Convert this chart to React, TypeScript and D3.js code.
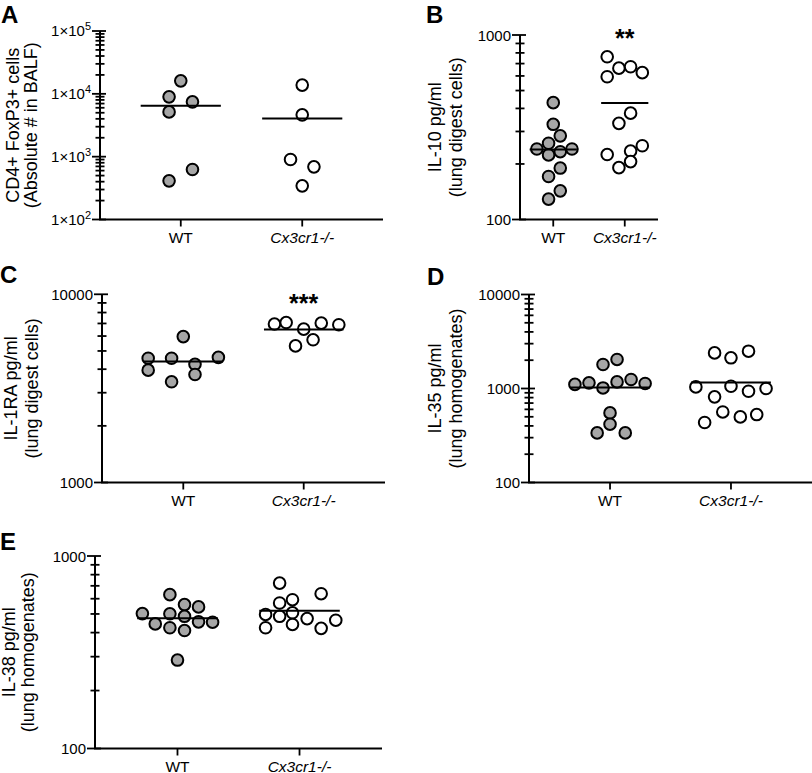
import React from "react";
import * as d3 from "d3";

const GROUPS = ["WT", "Cx3cr1-/-"];

// Panel A: CD4+ FoxP3+ cells (absolute # in BALF)
const A_WT = [16100, 8960, 7460, 5160, 625, 412];
const A_WT_SLOT = [0, -1, 1, -1, 1, -1];
const A_KO = [13770, 4630, 902, 688, 343];
const A_KO_SLOT = [0, 0, -1, 1, 0];
const A_TICKS = [100, 1000, 10000, 100000];

// Panel B: IL-10 pg/ml (lung digest cells)
const B_WT = [430, 328, 284, 259, 241, 224, 233, 241, 190, 171, 143, 129];
const B_WT_SLOT = [0, 0, 0.6, -0.4, -1.4, -0.4, 0.6, 1.6, 0.6, -0.4, 0.6, -0.4];
const B_KO = [762, 594, 661, 673, 625, 377, 332, 225, 235, 251, 206, 191];
const B_KO_SLOT = [-1.5, -1.5, -0.5, 0.5, 1.5, 0.5, -0.5, -1.5, 0.5, 1.5, 0.5, -0.5];
const B_TICKS = [100, 1000];

// Panel C: IL-1RA pg/ml (lung digest cells)
const C_WT = [5960, 4572, 4572, 4624, 4246, 3954, 3749, 3428];
const C_WT_SLOT = [0, -3, -1, 3, 1, -3, 1, -1];
const C_KO = [6950, 7080, 6530, 7030, 6890, 5730, 5320];
const C_KO_SLOT = [-2.5, -1.5, 0, 1.5, 3, 0.8, -0.7];
const C_TICKS = [1000, 10000];

// Panel D: IL-35 pg/ml (lung homogenates)
const D_WT = [2037, 1800, 1105, 1148, 1175, 1247, 1130, 1014, 550, 417, 337, 337];
const D_WT_SLOT = [0.6, -0.6, -3, -1.8, 0.6, 1.8, 3, -0.6, 0, 0, -1.1, 1.3];
const D_KO = [2393, 2120, 2495, 1040, 1057, 935, 1000, 815, 563, 499, 528, 435];
const D_KO_SLOT = [-1.4, 0, 1.5, -3, 0, 1.5, 3, -1.4, -0.7, 0.8, 2.2, -2.25];
const D_TICKS = [100, 1000, 10000];

// Panel E: IL-38 pg/ml (lung homogenates)
const E_WT = [630, 559, 544, 502, 501, 486, 444, 455, 453, 424, 410, 288];
const E_WT_SLOT = [-0.65, 0.6, 1.8, -3, -0.65, 0.6, -1.9, 1.8, 3, -0.65, 0.6, 0];
const E_KO = [723, 637, 570, 593, 497, 486, 507, 473, 464, 424, 441, 421];
const E_KO_SLOT = [-1.7, 1.85, -1.7, -0.6, -2.9, -1.7, -0.6, 0.65, 3.1, -2.9, -0.6, 1.85];
const E_TICKS = [100, 1000];

const FONT = "'Liberation Sans', Arial, Helvetica, sans-serif";
const GRAY = "#a6a6a6";
const DOT_STEP = 11.7;
const R = 5.8;

type PanelProps = {
  letter: string;
  letterX: number;
  letterY: number;
  wt: number[];
  wtSlot: number[];
  ko: number[];
  koSlot: number[];
  majorTicks: number[];
  sci?: boolean;
  title: [string, string];
  titleOff: [number, number];
  stars?: string;
  starsY?: number;
  frame: { x: number; top: number; bottom: number; right: number; pad: number };
};

function Panel(p: PanelProps) {
  const { x: ax, top, bottom, right, pad } = p.frame;
  const lo = p.majorTicks[0];
  const hi = p.majorTicks[p.majorTicks.length - 1];
  const y = d3.scaleLog().domain([lo, hi]).range([bottom, top]);
  const xs = d3.scalePoint<string>().domain(GROUPS).range([ax, right]).padding(pad);
  const step = xs.step();
  const allTicks = y.ticks();
  const isMajor = (t: number) => Math.abs(Math.log10(t) - Math.round(Math.log10(t))) < 1e-9;
  const series = [
    { g: GROUPS[0], vals: p.wt, slots: p.wtSlot, fill: GRAY },
    { g: GROUPS[1], vals: p.ko, slots: p.koSlot, fill: "#ffffff" },
  ];
  const midY = (top + bottom) / 2;
  return (
    <g fontFamily={FONT}>
      <text x={p.letterX} y={p.letterY} fontSize={24} fontWeight="bold" fill="#000">
        {p.letter}
      </text>
      <text
        transform={`translate(${ax + p.titleOff[0]},${midY}) rotate(-90)`}
        textAnchor="middle"
        fontSize={18}
        fill="#000"
      >
        {p.title[0]}
      </text>
      <text
        transform={`translate(${ax + p.titleOff[1]},${midY}) rotate(-90)`}
        textAnchor="middle"
        fontSize={18}
        fill="#000"
      >
        {p.title[1]}
      </text>
      <line x1={ax} x2={ax} y1={top} y2={bottom} stroke="#000" strokeWidth={2} />
      {allTicks.map((t, i) =>
        isMajor(t) ? (
          <line key={i} x1={ax - 8} x2={ax + 6} y1={y(t)} y2={y(t)} stroke="#000" strokeWidth={1.8} />
        ) : (
          <line key={i} x1={ax - 4.5} x2={ax + 4.5} y1={y(t)} y2={y(t)} stroke="#000" strokeWidth={1.8} />
        )
      )}
      {p.majorTicks.map((t, i) =>
        p.sci ? (
          <text key={"l" + i} x={ax - 9} y={y(t) + 5} textAnchor="end" fontSize={15} fill="#000">
            1×10
            <tspan dy={-6} fontSize={11}>
              {Math.round(Math.log10(t))}
            </tspan>
          </text>
        ) : (
          <text key={"l" + i} x={ax - 9} y={y(t) + 5.5} textAnchor="end" fontSize={15} fill="#000">
            {d3.format("d")(t)}
          </text>
        )
      )}
      <line x1={ax - 1} x2={right} y1={bottom} y2={bottom} stroke="#000" strokeWidth={2} />
      {GROUPS.map((g) => (
        <g key={g}>
          <line x1={xs(g)} x2={xs(g)} y1={bottom} y2={bottom + 7} stroke="#000" strokeWidth={1.8} />
          <text
            x={xs(g)}
            y={bottom + 23}
            textAnchor="middle"
            fontSize={15.5}
            fontStyle={g === "WT" ? "normal" : "italic"}
            fill="#000"
          >
            {g}
          </text>
        </g>
      ))}
      {series.map((s) =>
        s.vals.map((v, i) => (
          <circle
            key={s.g + i}
            cx={(xs(s.g) as number) + s.slots[i] * DOT_STEP}
            cy={y(v)}
            r={R}
            fill={s.fill}
            stroke="#000"
            strokeWidth={2}
          />
        ))
      )}
      {series.map((s) => {
        const m = d3.mean(s.vals) as number;
        const cx = xs(s.g) as number;
        return (
          <line
            key={"m" + s.g}
            x1={cx - step * 0.33}
            x2={cx + step * 0.33}
            y1={y(m)}
            y2={y(m)}
            stroke="#000"
            strokeWidth={2}
          />
        );
      })}
      {p.stars && (
        <text x={xs(GROUPS[1])} y={p.starsY} textAnchor="middle" fontSize={25} fontWeight="bold" fill="#000">
          {p.stars}
        </text>
      )}
    </g>
  );
}

export default function App() {
  return (
    <svg
      width={812}
      height={773}
      style={{ position: "absolute", left: 0, top: 0, background: "#fff" }}
    >
      <rect width={812} height={773} fill="#fff" />
      <Panel
        letter="A"
        letterX={1}
        letterY={23}
        wt={A_WT}
        wtSlot={A_WT_SLOT}
        ko={A_KO}
        koSlot={A_KO_SLOT}
        majorTicks={A_TICKS}
        sci
        title={["CD4+ FoxP3+ cells", "(Absolute # in BALF)"]}
        titleOff={[-81, -63]}
        frame={{ x: 100, top: 31, bottom: 219.5, right: 383, pad: 0.665 }}
      />
      <Panel
        letter="B"
        letterX={426}
        letterY={23}
        wt={B_WT}
        wtSlot={B_WT_SLOT}
        ko={B_KO}
        koSlot={B_KO_SLOT}
        majorTicks={B_TICKS}
        title={["IL-10 pg/ml", "(lung digest cells)"]}
        titleOff={[-79, -58]}
        stars="**"
        starsY={47}
        frame={{ x: 520, top: 35, bottom: 219.5, right: 658, pad: 0.465 }}
      />
      <Panel
        letter="C"
        letterX={0}
        letterY={283}
        wt={C_WT}
        wtSlot={C_WT_SLOT}
        ko={C_KO}
        koSlot={C_KO_SLOT}
        majorTicks={C_TICKS}
        title={["IL-1RA pg/ml", "(lung digest cells)"]}
        titleOff={[-85, -64]}
        stars="***"
        starsY={312}
        frame={{ x: 102, top: 294.3, bottom: 482.5, right: 385, pad: 0.675 }}
      />
      <Panel
        letter="D"
        letterX={427}
        letterY={285}
        wt={D_WT}
        wtSlot={D_WT_SLOT}
        ko={D_KO}
        koSlot={D_KO_SLOT}
        majorTicks={D_TICKS}
        title={["IL-35 pg/ml", "(lung homogenates)"]}
        titleOff={[-88, -67]}
        frame={{ x: 529, top: 294.5, bottom: 482.5, right: 812, pad: 0.67 }}
      />
      <Panel
        letter="E"
        letterX={0}
        letterY={550}
        wt={E_WT}
        wtSlot={E_WT_SLOT}
        ko={E_KO}
        koSlot={E_KO_SLOT}
        majorTicks={E_TICKS}
        title={["IL-38 pg/ml", "(lung homogenates)"]}
        titleOff={[-80, -61]}
        frame={{ x: 95, top: 556, bottom: 748.5, right: 382, pad: 0.676 }}
      />
    </svg>
  );
}
